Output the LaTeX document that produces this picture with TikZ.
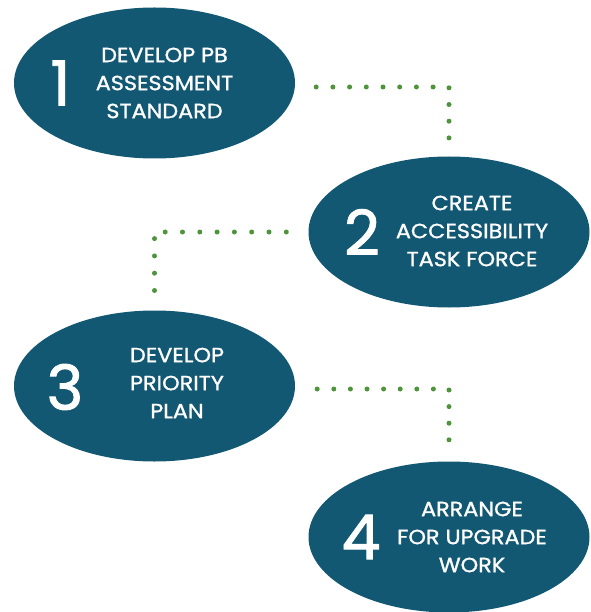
\documentclass[tikz,border=0pt]{standalone}
\usepackage{fontspec}
\setmainfont{Poppins}
\newfontfamily\stagefont{Poppins}[FakeBold=1.2, FakeStretch=1.09]
\newfontfamily\numfont{Poppins}[FakeBold=1.5]
\usetikzlibrary{shapes,positioning,calc}
\definecolor{stageteal}{RGB}{18,88,115}
\definecolor{dotgreen}{RGB}{78,148,58}
\tikzset{
    stage/.style={ellipse, fill=stageteal, minimum width=281pt, minimum height=151pt, inner sep=0pt},
    num/.style={text=white, font=\numfont\fontsize{62}{62}\selectfont, inner sep=0pt},
    stagetext/.style={text=white, align=center, font=\stagefont\fontsize{20.5}{28}\selectfont, inner sep=0pt},
    conn/.style={draw=dotgreen, line width=5pt, line cap=round, dash pattern=on 0pt off 16.7pt}
}
\begin{document}
\begin{tikzpicture}[x=1pt,y=1pt]
    \useasboundingbox (0,0) rectangle (590,-612);

    % Stages
    \node [stage] (std) at (154.5,-83) {};
    \node [stage] (task) at (449,-232) {};
    \node [stage] (plan) at (154.5,-386) {};
    \node [stage] (work) at (449,-537) {};

    % Numbers
    \node [num] (n1) at ([shift={(-94,0)}]std) {1};
    \node [num] (n2) at ([shift={(-87,0)}]task) {2};
    \node [num] (n3) at ([shift={(-89.5,-1)}]plan) {3};
    \node [num] (n4) at ([shift={(-88,0)}]work) {4};

    % Texts
    \node [stagetext] (t1) at ([shift={(10,0)}]std) {DEVELOP PB\\ASSESSMENT\\STANDARD};
    \node [stagetext] (t2) at ([shift={(23,1)}]task) {CREATE\\ACCESSIBILITY\\TASK FORCE};
    \node [stagetext] (t3) at ([shift={(22.5,3)}]plan) {DEVELOP\\PRIORITY\\PLAN};
    \node [stagetext] (t4) at ([shift={(23,0)}]work) {ARRANGE\\FOR UPGRADE\\WORK};

    % Connections
    \draw [conn, shorten <=21pt, shorten >=18pt] ([yshift=-4pt]std.east) -| (task.north);
    \draw [conn, dash pattern=on 0pt off 17.3pt, shorten <=22pt, shorten >=19pt] (task.west) -| (plan.north);
    \draw [conn, dash pattern=on 0pt off 16.6pt, shorten <=22pt, shorten >=21pt] ([yshift=-3pt]plan.east) -| (work.north);
\end{tikzpicture}
\end{document}
